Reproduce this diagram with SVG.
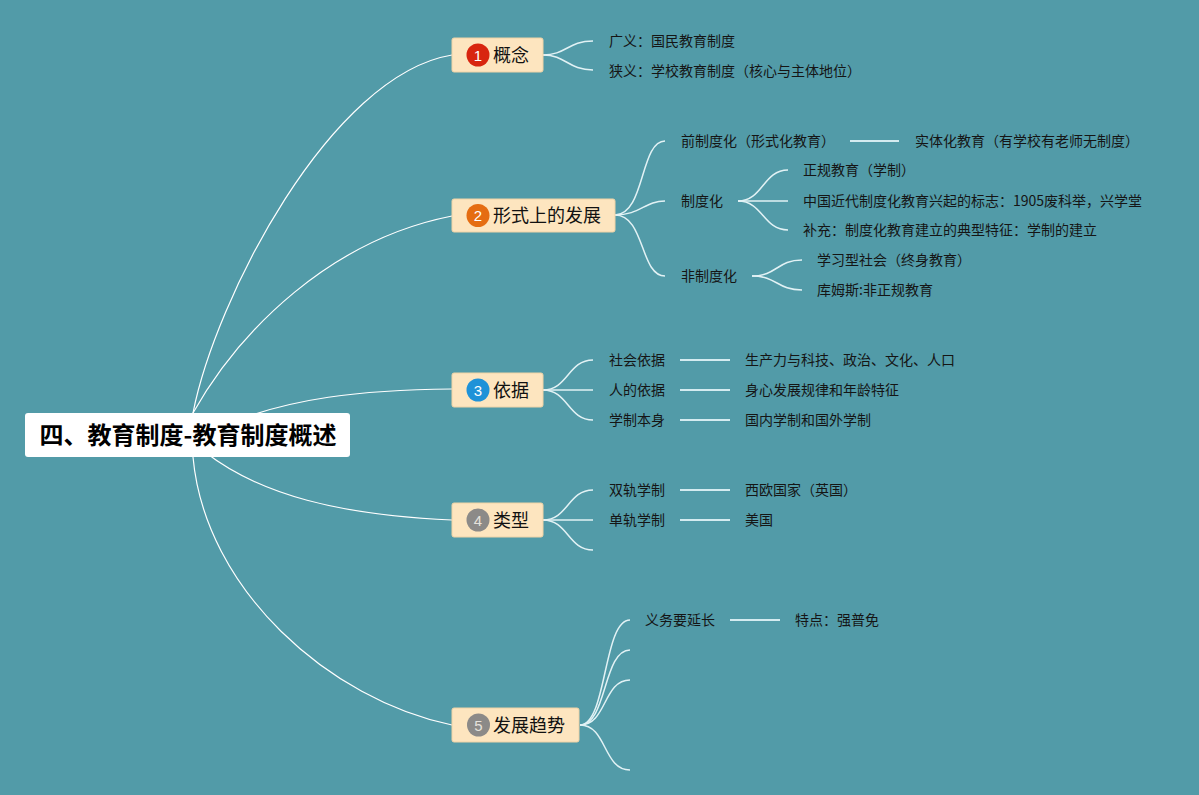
<svg xmlns="http://www.w3.org/2000/svg" width="1199" height="795" viewBox="0 0 1199 795">
<style>
.t14{font-family:"Noto Sans CJK SC","Noto Sans",sans-serif;font-size:14px;fill:#151515}
.t18{font-family:"Noto Sans CJK SC","Noto Sans",sans-serif;font-size:18px;fill:#111}
.root{font-family:"Noto Sans CJK SC","Noto Sans",sans-serif;font-size:24px;font-weight:bold;fill:#000}
.box{fill:#fde5bf;stroke:#efd3a6;stroke-width:1}
.num{font-family:"Liberation Sans","Noto Sans",sans-serif;font-size:15px;fill:#fff;text-anchor:middle}
.main{fill:none;stroke:#ffffff;stroke-width:1.2}
.sub{fill:none;stroke:#e2f2f5;stroke-width:1.5}
.dash{fill:none;stroke:#d4ebf0;stroke-width:2}
</style>
<rect x="0" y="0" width="1199" height="795" fill="#529ba8"/>
<g id="connectors">
<path class="main" d="M193,413 C215,300 330,75 452,55"/>
<path class="main" d="M193,413 C240,330 330,240 452,216"/>
<path class="main" d="M225,425 C290,398 360,390 452,389"/>
<path class="main" d="M205,452 C260,495 340,515 452,520"/>
<path class="main" d="M193,457 C205,590 330,700 452,725"/>
<path class="sub" d="M543,55 C566,55 568,41 593,41"/>
<path class="sub" d="M543,55 C566,55 568,70 593,70"/>
<path class="sub" d="M615,215 C645,215 640,141 665,141"/>
<path class="sub" d="M615,215 C640,215 645,201 665,201"/>
<path class="sub" d="M615,215 C645,215 640,276 665,276"/>
<path class="dash" d="M850,141 L899,141"/>
<path class="sub" d="M738,201 C763,201 763,170 788,170"/>
<path class="sub" d="M738,201 L788,201"/>
<path class="sub" d="M738,201 C763,201 763,230 788,230"/>
<path class="sub" d="M752,276 C777,276 777,260 802,260"/>
<path class="sub" d="M752,276 C777,276 777,290 802,290"/>
<path class="sub" d="M543,390 C568,390 568,360 593,360"/>
<path class="sub" d="M543,390 L593,390"/>
<path class="sub" d="M543,390 C568,390 568,420 593,420"/>
<path class="dash" d="M680,360 L730,360"/>
<path class="dash" d="M680,390 L730,390"/>
<path class="dash" d="M680,420 L730,420"/>
<path class="sub" d="M543,520 C568,520 568,490 593,490"/>
<path class="sub" d="M543,520 L593,520"/>
<path class="sub" d="M543,520 C568,520 568,550 593,550"/>
<path class="dash" d="M680,490 L730,490"/>
<path class="dash" d="M680,520 L730,520"/>
<path class="sub" d="M580,725 C607,725 603,620 630,620"/>
<path class="sub" d="M580,725 C607,725 603,650 630,650"/>
<path class="sub" d="M580,725 C607,725 603,680 630,680"/>
<path class="sub" d="M580,725 C607,725 603,770 630,770"/>
<path class="dash" d="M730,620 L780,620"/>
</g>
<g id="root">
<rect x="25" y="413" width="325" height="44" rx="3" fill="#ffffff"/>
<text class="root" x="188" y="444" text-anchor="middle">四、教育制度-教育制度概述</text>
</g>
<g id="n1">
<rect class="box" x="452" y="38" width="91" height="34" rx="2"/>
<circle cx="478" cy="55" r="11.5" fill="#d8250f"/>
<text class="num" x="478" y="60.5">1</text>
<text class="t18" x="493" y="61.5">概念</text>
</g>
<g id="n1a"><text class="t14" x="609" y="46">广义：国民教育制度</text></g>
<g id="n1b"><text class="t14" x="609" y="76">狭义：学校教育制度（核心与主体地位）</text></g>
<g id="n2">
<rect class="box" x="452" y="199" width="163" height="33" rx="2"/>
<circle cx="478" cy="215.5" r="11.5" fill="#e56d12"/>
<text class="num" x="478" y="221">2</text>
<text class="t18" x="493" y="222">形式上的发展</text>
</g>
<g id="n2a"><text class="t14" x="681" y="146">前制度化（形式化教育）</text></g>
<g id="n2a1"><text class="t14" x="915" y="146">实体化教育（有学校有老师无制度）</text></g>
<g id="n2b"><text class="t14" x="681" y="206">制度化</text></g>
<g id="n2b1"><text class="t14" x="803" y="175">正规教育（学制）</text></g>
<g id="n2b2"><text class="t14" x="803" y="206">中国近代制度化教育兴起的标志：1905废科举，兴学堂</text></g>
<g id="n2b3"><text class="t14" x="803" y="235">补充：制度化教育建立的典型特征：学制的建立</text></g>
<g id="n2c"><text class="t14" x="681" y="281">非制度化</text></g>
<g id="n2c1"><text class="t14" x="817" y="265">学习型社会（终身教育）</text></g>
<g id="n2c2"><text class="t14" x="817" y="295">库姆斯:非正规教育</text></g>
<g id="n3">
<rect class="box" x="452" y="373" width="91" height="34" rx="2"/>
<circle cx="478" cy="390" r="11.5" fill="#1f92d8"/>
<text class="num" x="478" y="395.5">3</text>
<text class="t18" x="493" y="396.5">依据</text>
</g>
<g id="n3a"><text class="t14" x="609" y="365">社会依据</text></g>
<g id="n3a1"><text class="t14" x="745" y="365">生产力与科技、政治、文化、人口</text></g>
<g id="n3b"><text class="t14" x="609" y="395">人的依据</text></g>
<g id="n3b1"><text class="t14" x="745" y="395">身心发展规律和年龄特征</text></g>
<g id="n3c"><text class="t14" x="609" y="425">学制本身</text></g>
<g id="n3c1"><text class="t14" x="745" y="425">国内学制和国外学制</text></g>
<g id="n4">
<rect class="box" x="452" y="503" width="91" height="34" rx="2"/>
<circle cx="478" cy="520" r="11.5" fill="#8c8a88"/>
<text class="num" x="478" y="525.5" style="fill:#e6e2dc">4</text>
<text class="t18" x="493" y="526.5">类型</text>
</g>
<g id="n4a"><text class="t14" x="609" y="495">双轨学制</text></g>
<g id="n4a1"><text class="t14" x="745" y="495">西欧国家（英国）</text></g>
<g id="n4b"><text class="t14" x="609" y="525">单轨学制</text></g>
<g id="n4b1"><text class="t14" x="745" y="525">美国</text></g>
<g id="n5">
<rect class="box" x="452" y="708" width="127" height="34" rx="2"/>
<circle cx="478.5" cy="725" r="11.5" fill="#8c8a88"/>
<text class="num" x="478.5" y="730.5" style="fill:#e6e2dc">5</text>
<text class="t18" x="493" y="731.5">发展趋势</text>
</g>
<g id="n5a"><text class="t14" x="645" y="625">义务要延长</text></g>
<g id="n5a1"><text class="t14" x="795" y="625">特点：强普免</text></g>
</svg>
